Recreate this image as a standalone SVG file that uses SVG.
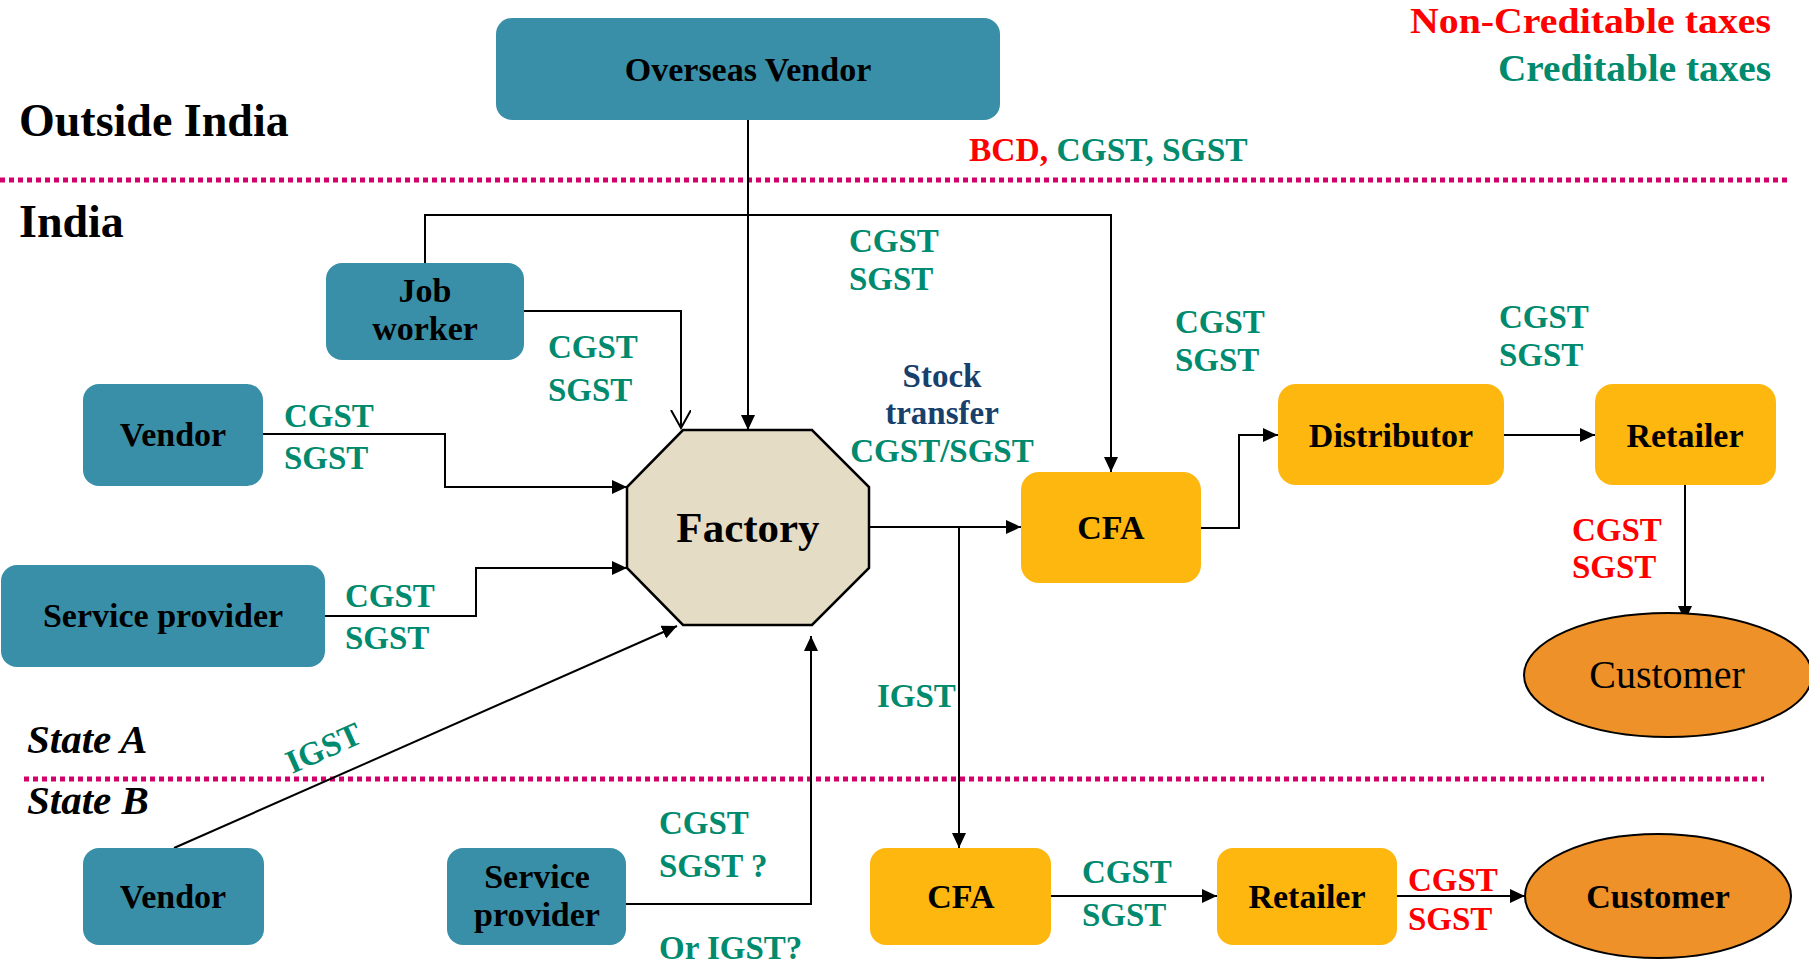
<svg xmlns="http://www.w3.org/2000/svg" width="1809" height="969" viewBox="0 0 1809 969">
<style>
text{font-family:"Liberation Serif","Times New Roman",serif;}
.teal{fill:#3A8FA8;}
.gold{fill:#FDB70F;}
.cust{fill:#EE9128;stroke:#000;stroke-width:2;}
.nt{font-size:34px;font-weight:bold;fill:#000;text-anchor:middle;}
.lb{font-size:33px;font-weight:bold;fill:#008A6E;}
.red{fill:#FF0000;}
.blue{fill:#17406D;}
.region{font-size:46px;font-weight:bold;fill:#000;}
.state{font-size:41px;font-weight:bold;font-style:italic;fill:#000;}
.dot{stroke:#D4006A;stroke-width:5;stroke-dasharray:5 4;fill:none;}
.con{stroke:#000;stroke-width:2;fill:none;}
</style>
<defs>
<marker id="arr" markerUnits="userSpaceOnUse" markerWidth="16" markerHeight="14" refX="15" refY="7" orient="auto"><path d="M0,0 L15,7 L0,14 z" fill="#000"/></marker>
<marker id="open" markerUnits="userSpaceOnUse" markerWidth="20" markerHeight="22" refX="18" refY="10" orient="auto"><path d="M0,0 L18,10 L0,20" fill="none" stroke="#000" stroke-width="2"/></marker>
</defs>
<rect width="1809" height="969" fill="#fff"/>
<g id="dividers">
<line class="dot" x1="0" y1="180" x2="1788" y2="180"/>
<line class="dot" x1="24" y1="779" x2="1764" y2="779"/>
</g>
<g id="regions">
<text class="region" x="19" y="136">Outside India</text>
<text class="region" x="19" y="237">India</text>
<text class="state" x="27" y="753">State A</text>
<text class="state" x="27" y="814">State B</text>
</g>
<g id="legend">
<text class="lb red" x="1410" y="33" textLength="361" lengthAdjust="spacingAndGlyphs" style="font-size:35px">Non-Creditable taxes</text>
<text class="lb" x="1498" y="81" textLength="273" lengthAdjust="spacingAndGlyphs" style="font-size:37px">Creditable taxes</text>
</g>
<g id="connectors">
<path class="con" d="M748 120 V430" marker-end="url(#arr)"/>
<path class="con" d="M425 263 V215 H1111 V472" marker-end="url(#arr)"/>
<path class="con" d="M524 311 H681 V428" marker-end="url(#open)"/>
<path class="con" d="M263 434 H445 V487 H627" marker-end="url(#arr)"/>
<path class="con" d="M325 616 H476 V568 H627" marker-end="url(#arr)"/>
<path class="con" d="M869 527 H1021" marker-end="url(#arr)"/>
<path class="con" d="M959 527 V848" marker-end="url(#arr)"/>
<path class="con" d="M1201 528 H1239 V435 H1278" marker-end="url(#arr)"/>
<path class="con" d="M1504 435 H1595" marker-end="url(#arr)"/>
<path class="con" d="M1685 485 V621" marker-end="url(#arr)"/>
<path class="con" d="M174 848 L677 626" marker-end="url(#arr)"/>
<path class="con" d="M626 904 H811 V636" marker-end="url(#arr)"/>
<path class="con" d="M1051 896 H1217" marker-end="url(#arr)"/>
<path class="con" d="M1397 896 H1525" marker-end="url(#arr)"/>
</g>
<g id="overseas-vendor">
<rect class="teal" x="496" y="18" width="504" height="102" rx="16"/>
<text class="nt" x="748" y="81">Overseas Vendor</text>
</g>
<g id="job-worker">
<rect class="teal" x="326" y="263" width="198" height="97" rx="16"/>
<text class="nt" x="425" y="302">Job</text>
<text class="nt" x="425" y="340">worker</text>
</g>
<g id="vendor-a">
<rect class="teal" x="83" y="384" width="180" height="102" rx="16"/>
<text class="nt" x="173" y="446">Vendor</text>
</g>
<g id="service-provider-a">
<rect class="teal" x="1" y="565" width="324" height="102" rx="16"/>
<text class="nt" x="163" y="627">Service provider</text>
</g>
<g id="factory">
<polygon points="683,430 812,430 869,487 869,568 812,625 683,625 627,568 627,487" fill="#E5DCC5" stroke="#000" stroke-width="2.5"/>
<text class="nt" x="748" y="542" style="font-size:43px">Factory</text>
</g>
<g id="cfa-a">
<rect class="gold" x="1021" y="472" width="180" height="111" rx="18"/>
<text class="nt" x="1111" y="539">CFA</text>
</g>
<g id="distributor">
<rect class="gold" x="1278" y="384" width="226" height="101" rx="18"/>
<text class="nt" x="1391" y="447">Distributor</text>
</g>
<g id="retailer-a">
<rect class="gold" x="1595" y="384" width="181" height="101" rx="18"/>
<text class="nt" x="1685" y="447">Retailer</text>
</g>
<g id="customer-a">
<ellipse class="cust" cx="1668" cy="675" rx="144" ry="62"/>
<text x="1667" y="688" style="font-size:40px;fill:#000;text-anchor:middle">Customer</text>
</g>
<g id="vendor-b">
<rect class="teal" x="83" y="848" width="181" height="97" rx="16"/>
<text class="nt" x="173" y="908">Vendor</text>
</g>
<g id="service-provider-b">
<rect class="teal" x="447" y="848" width="179" height="97" rx="16"/>
<text class="nt" x="537" y="888">Service</text>
<text class="nt" x="537" y="926">provider</text>
</g>
<g id="cfa-b">
<rect class="gold" x="870" y="848" width="181" height="97" rx="16"/>
<text class="nt" x="961" y="908">CFA</text>
</g>
<g id="retailer-b">
<rect class="gold" x="1217" y="848" width="180" height="97" rx="16"/>
<text class="nt" x="1307" y="908">Retailer</text>
</g>
<g id="customer-b">
<ellipse class="cust" cx="1658" cy="896" rx="133" ry="62"/>
<text class="nt" x="1658" y="908">Customer</text>
</g>
<g id="labels">
<text class="lb" x="969" y="161" style="font-size:33.5px"><tspan class="red">BCD,</tspan> CGST, SGST</text>
<text class="lb" x="849" y="252">CGST</text>
<text class="lb" x="849" y="290">SGST</text>
<text class="lb" x="548" y="358">CGST</text>
<text class="lb" x="548" y="401">SGST</text>
<text class="lb" x="284" y="427">CGST</text>
<text class="lb" x="284" y="469">SGST</text>
<text class="lb" x="345" y="607">CGST</text>
<text class="lb" x="345" y="649">SGST</text>
<text class="lb blue" x="942" y="387" text-anchor="middle">Stock</text>
<text class="lb blue" x="942" y="424" text-anchor="middle">transfer</text>
<text class="lb" x="942" y="462" text-anchor="middle">CGST/SGST</text>
<text class="lb" x="1175" y="333">CGST</text>
<text class="lb" x="1175" y="371">SGST</text>
<text class="lb" x="1499" y="328">CGST</text>
<text class="lb" x="1499" y="366">SGST</text>
<text class="lb red" x="1572" y="541">CGST</text>
<text class="lb red" x="1572" y="578">SGST</text>
<text class="lb" x="877" y="707">IGST</text>
<text class="lb" x="292" y="774" transform="rotate(-24 292 774)">IGST</text>
<text class="lb" x="659" y="834">CGST</text>
<text class="lb" x="659" y="877">SGST ?</text>
<text class="lb" x="659" y="959">Or IGST?</text>
<text class="lb" x="1082" y="883">CGST</text>
<text class="lb" x="1082" y="926">SGST</text>
<text class="lb red" x="1408" y="891">CGST</text>
<text class="lb red" x="1408" y="930">SGST</text>
</g>
</svg>
